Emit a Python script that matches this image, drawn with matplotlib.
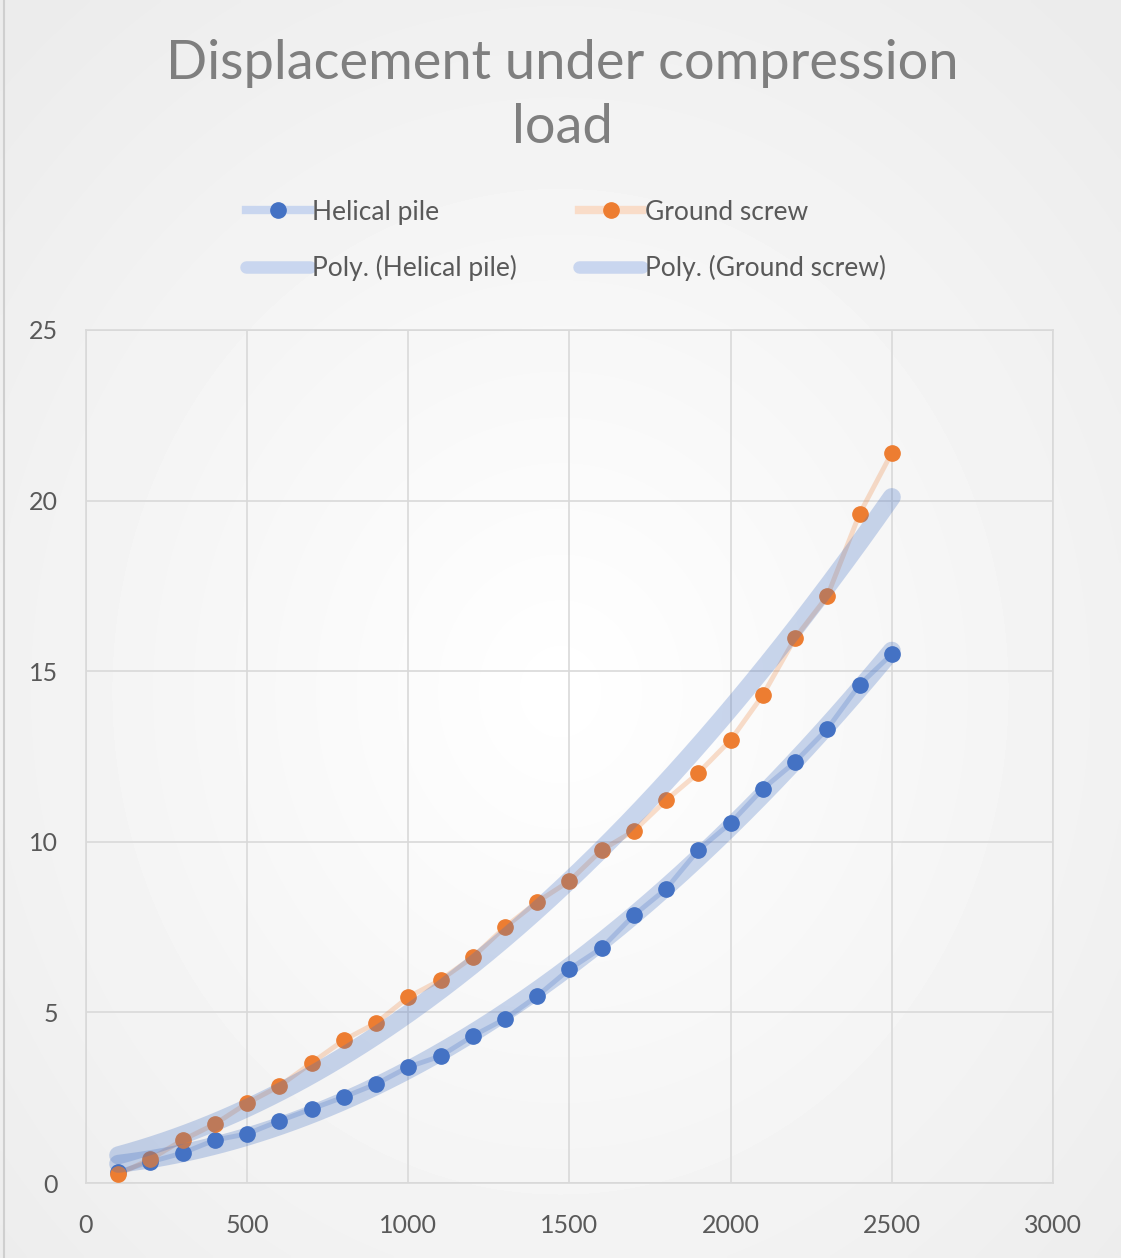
import numpy as np
import matplotlib
matplotlib.use("Agg")
import matplotlib.pyplot as plt
from matplotlib.lines import Line2D

# data
load = [100, 200, 300, 400, 500, 600, 700, 800, 900, 1000, 1100, 1200, 1300,
        1400, 1500, 1600, 1700, 1800, 1900, 2000, 2100, 2200, 2300, 2400, 2500]
helical_pile = [0.32, 0.62, 0.88, 1.26, 1.44, 1.82, 2.17, 2.52, 2.90, 3.40,
                3.72, 4.31, 4.81, 5.48, 6.27, 6.89, 7.85, 8.62, 9.76, 10.55,
                11.55, 12.34, 13.31, 14.60, 15.50]
ground_screw = [0.26, 0.70, 1.26, 1.73, 2.34, 2.84, 3.52, 4.19, 4.69, 5.45,
                5.95, 6.62, 7.50, 8.24, 8.85, 9.76, 10.32, 11.22, 12.02, 12.98,
                14.30, 15.97, 17.20, 19.61, 21.40]
x_ticks = [0, 500, 1000, 1500, 2000, 2500, 3000]
y_ticks = [0, 5, 10, 15, 20, 25]

BLUE = "#4472C4"
ORANGE = "#ED7D31"
TXT = "#595959"
GRID = "#d9d9d9"

plt.rcParams['font.family'] = ['Lato', 'DejaVu Sans']

fig = plt.figure(figsize=(11.21, 12.58), dpi=100)

# soft gradient background like the excel chart area
bg = fig.add_axes([0, 0, 1, 1], zorder=-10)
yy, xx = np.mgrid[0:1:300j, 0:1:300j]
r = np.sqrt((xx - 0.5) ** 2 + (yy - 0.55) ** 2)
shade = 1.0 - 0.075 * np.clip(r / 0.7, 0, 1)
bg.imshow(shade, cmap="gray", vmin=0, vmax=1, extent=[0, 1, 0, 1],
          aspect="auto", interpolation="bilinear")
bg.plot([0.004, 0.004], [0, 1], color="#cfcfcf", lw=1.5)
bg.set_xlim(0, 1)
bg.set_ylim(0, 1)
bg.axis("off")

ax = fig.add_axes([0.0767, 0.0596, 0.9393 - 0.0767, 0.7377 - 0.0596])
ax.patch.set_alpha(0)

x = np.array(load, dtype=float)
hp = np.array(helical_pile)
gs = np.array(ground_screw)

# data series
ax.plot(x, hp, color=BLUE, alpha=0.25, lw=3.5, zorder=2)
ax.plot(x, hp, 'o', color=BLUE, ms=11, zorder=3)
ax.plot(x, gs, color=ORANGE, alpha=0.25, lw=3.5, zorder=2)
ax.plot(x, gs, 'o', color=ORANGE, ms=11, zorder=3)

# 2nd order polynomial trendlines
xs = np.linspace(x[0], x[-1], 200)
for ser in (hp, gs):
    c = np.polyfit(x, ser, 2)
    ax.plot(xs, np.polyval(c, xs), color=BLUE, alpha=0.28, lw=13,
            solid_capstyle="round", zorder=4)

ax.set_xlim(0, 3000)
ax.set_ylim(0, 25)
ax.set_xticks(x_ticks)
ax.set_yticks(y_ticks)
ax.grid(True, color=GRID, lw=1.2)
ax.set_axisbelow(True)
for s in ax.spines.values():
    s.set_color(GRID)
    s.set_linewidth(1.2)
ax.tick_params(length=0, labelsize=18, labelcolor=TXT)
ax.tick_params(axis="x", pad=22)
ax.tick_params(axis="y", pad=20)

fig.text(0.502, 0.924, "Displacement under compression\nload", ha="center",
         va="center", fontsize=39, color="#7f7f7f", linespacing=1.38)

handles = [
    Line2D([], [], color="#c9d6ef", lw=6, marker='o', ms=11,
           markerfacecolor=BLUE, markeredgecolor=BLUE),
    Line2D([], [], color="#c9d6ef", lw=9, solid_capstyle="round"),
    Line2D([], [], color="#f9dcc8", lw=6, marker='o', ms=11,
           markerfacecolor=ORANGE, markeredgecolor=ORANGE),
    Line2D([], [], color="#c9d6ef", lw=9, solid_capstyle="round"),
]
labels = ["Helical pile", "Poly. (Helical pile)",
          "Ground screw", "Poly. (Ground screw)"]
leg = fig.legend(handles, labels, ncol=2, loc="center",
                 bbox_to_anchor=(0.505, 0.809), frameon=False, fontsize=19,
                 labelcolor=TXT, handlelength=2.4, handletextpad=0.1,
                 columnspacing=2.35, labelspacing=1.15)

fig.savefig("out.png", dpi=100)
